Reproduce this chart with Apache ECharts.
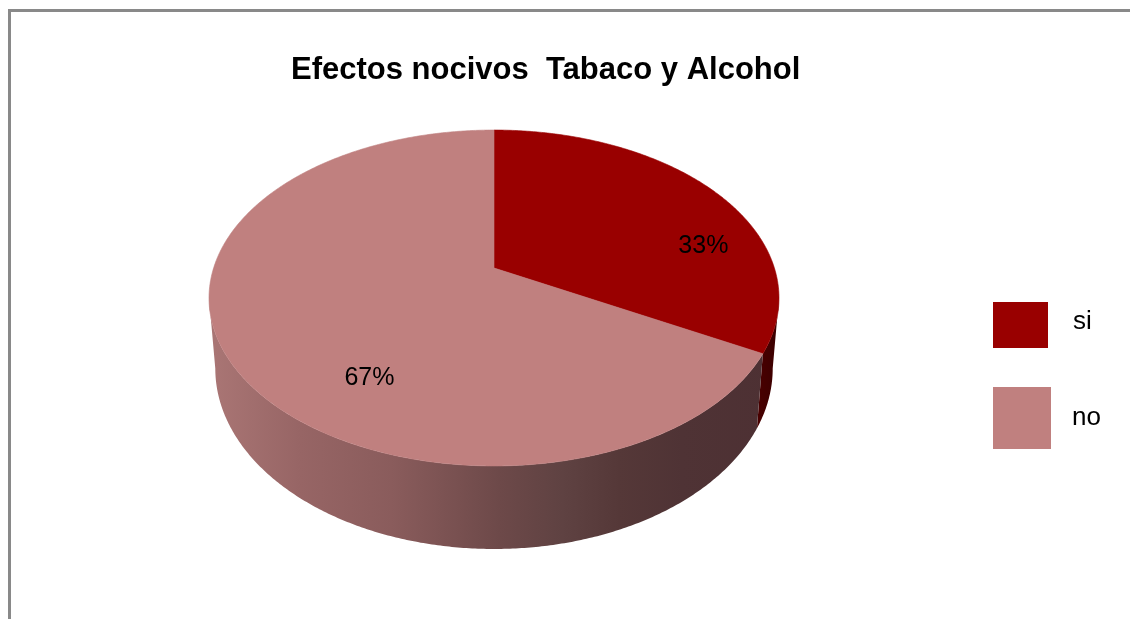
<!DOCTYPE html>
<html>
<head>
<meta charset="utf-8">
<script src="https://cdn.jsdelivr.net/npm/echarts@6/dist/echarts.min.js"></script>
<style>
html,body{margin:0;padding:0;background:#fff;}
#chart{width:1130px;height:619px;}
</style>
</head>
<body>
<div id="chart"></div>
<script>
// ---- data ----
const titleText = 'Efectos nocivos  Tabaco y Alcohol';
const categories = ['si', 'no'];
const values = [33, 67];

// ---- styles / layout ----
const FONT = '"Liberation Sans", Arial, Helvetica, sans-serif';
const topColors = ['#990000', '#C0807F'];
const sideColors = [
  [{offset: 0, color: '#4A0000'}, {offset: 1, color: '#3A0000'}],
  [{offset: 0, color: '#AA7675'}, {offset: 0.16, color: '#976565'}, {offset: 0.32, color: '#8A5C5C'},
   {offset: 0.51, color: '#6D4949'}, {offset: 0.62, color: '#5F4242'}, {offset: 0.72, color: '#553838'},
   {offset: 0.83, color: '#4F3335'}, {offset: 1, color: '#4D3033'}]
];
// perspective pie geometry (pixels)
const PIE = {cx: 494, cy: 268, A: 280.4, B: 162.6, k: 0.1786, H: 68.2, bottomScale: 0.978};
const LABEL = {r: 0.7, rh: 0.689, rv: 0.795, sx: 53, sy: 39.7, fontSize: 25};

const total = values.reduce((a, b) => a + b, 0);

function proj(theta, r) {
  const X = r * Math.sin(theta), Z = r * Math.cos(theta);
  const w = 1 + PIE.k * Z;
  return [PIE.cx + PIE.A * X / w, PIE.cy - PIE.B * Z / w];
}
function projBottom(theta) {
  const Z = Math.cos(theta);
  const w = 1 + PIE.k * Z;
  const p = proj(theta, 1);
  return [PIE.cx + (p[0] - PIE.cx) * PIE.bottomScale, p[1] + PIE.H / w];
}
function arcPoints(a, b, fn) {
  const pts = [];
  const n = Math.max(2, Math.ceil((b - a) / (Math.PI / 360)));
  for (let i = 0; i <= n; i++) pts.push(fn(a + (b - a) * i / n));
  return pts;
}
const frontStart = Math.acos(-PIE.k);
const frontEnd = 2 * Math.PI - Math.acos(-PIE.k);

function makeRender(idx) {
  return function (params, api) {
    const v = api.value(0);
    let before = 0;
    for (let i = 0; i < idx; i++) before += values[i];
    const a0 = before / total * 2 * Math.PI;
    const a1 = a0 + v / total * 2 * Math.PI;
    const children = [];
    // side wall
    const s0 = Math.max(a0, frontStart), s1 = Math.min(a1, frontEnd);
    if (s1 > s0) {
      const topArc = arcPoints(s0, s1, t => proj(t, 1));
      const botArc = arcPoints(s0, s1, projBottom).reverse();
      const pts = topArc.concat(botArc);
      const fullMin = PIE.cx - PIE.A / Math.sqrt(1 - PIE.k * PIE.k);
      const fullMax = PIE.cx + PIE.A / Math.sqrt(1 - PIE.k * PIE.k);
      const grad = idx === 0
        ? new echarts.graphic.LinearGradient(0, 0, 1, 0, sideColors[idx])
        : new echarts.graphic.LinearGradient(fullMin, 0, fullMax, 0, sideColors[idx], true);
      children.push({
        type: 'polygon', z2: 1,
        shape: {points: pts},
        style: {fill: grad, stroke: null}
      });
    }
    // top face
    const topPts = [[PIE.cx, PIE.cy]].concat(arcPoints(a0, a1, t => proj(t, 1)));
    children.push({
      type: 'polygon', z2: 2,
      shape: {points: topPts},
      style: {fill: topColors[idx], stroke: topColors[idx], lineWidth: 0.6}
    });
    // label
    const mid = (a0 + a1) / 2;
    const Z = LABEL.r * Math.cos(mid);
    const w = 1 + PIE.k * Z;
    const lx = PIE.cx + LABEL.sx + PIE.A * LABEL.rh * Math.sin(mid) / w;
    const ly = PIE.cy + LABEL.sy - PIE.B * LABEL.rv * Math.cos(mid) / w;
    children.push({
      type: 'text', z2: 3,
      x: lx, y: ly,
      style: {
        text: Math.round(v / total * 100) + '%',
        fill: '#000', fontSize: LABEL.fontSize, fontFamily: FONT,
        align: 'center', verticalAlign: 'middle'
      }
    });
    return {type: 'group', children: children};
  };
}

const chart = echarts.init(document.getElementById('chart'), null, {renderer: 'canvas'});
const legendBase = {
  orient: 'vertical', padding: 0, icon: 'rect', selectedMode: false,
  itemStyle: {borderWidth: 0}
};
chart.setOption({
  animation: false,
  backgroundColor: '#ffffff',
  title: {
    text: titleText, left: 291, top: 55, padding: 0,
    textStyle: {fontFamily: FONT, fontSize: 31, fontWeight: 'bold', color: '#000'}
  },
  legend: [
    Object.assign({}, legendBase, {
      data: [categories[0]], left: 993, top: 302, itemWidth: 55, itemHeight: 46,
      formatter: '{t|{name}}',
      textStyle: {
        fontFamily: FONT, fontSize: 26, color: '#000', padding: [0, 0, 0, 20],
        rich: {t: {fontFamily: FONT, fontSize: 26, color: '#000', padding: [0, 0, 6, 0]}}
      }
    }),
    Object.assign({}, legendBase, {
      data: [categories[1]], left: 993, top: 387, itemWidth: 58, itemHeight: 62,
      textStyle: {fontFamily: FONT, fontSize: 26, color: '#000', padding: [0, 0, 0, 16]}
    })
  ],
  graphic: [{
    type: 'rect', silent: true, z: -10,
    shape: {x: 9.5, y: 10.5, width: 1200, height: 700},
    style: {fill: null, stroke: '#898989', lineWidth: 3}
  }],
  series: categories.map((name, i) => ({
    type: 'custom', name: name, coordinateSystem: 'none',
    itemStyle: {color: topColors[i]},
    data: [values[i]],
    renderItem: makeRender(i)
  }))
});
</script>
</body>
</html>
